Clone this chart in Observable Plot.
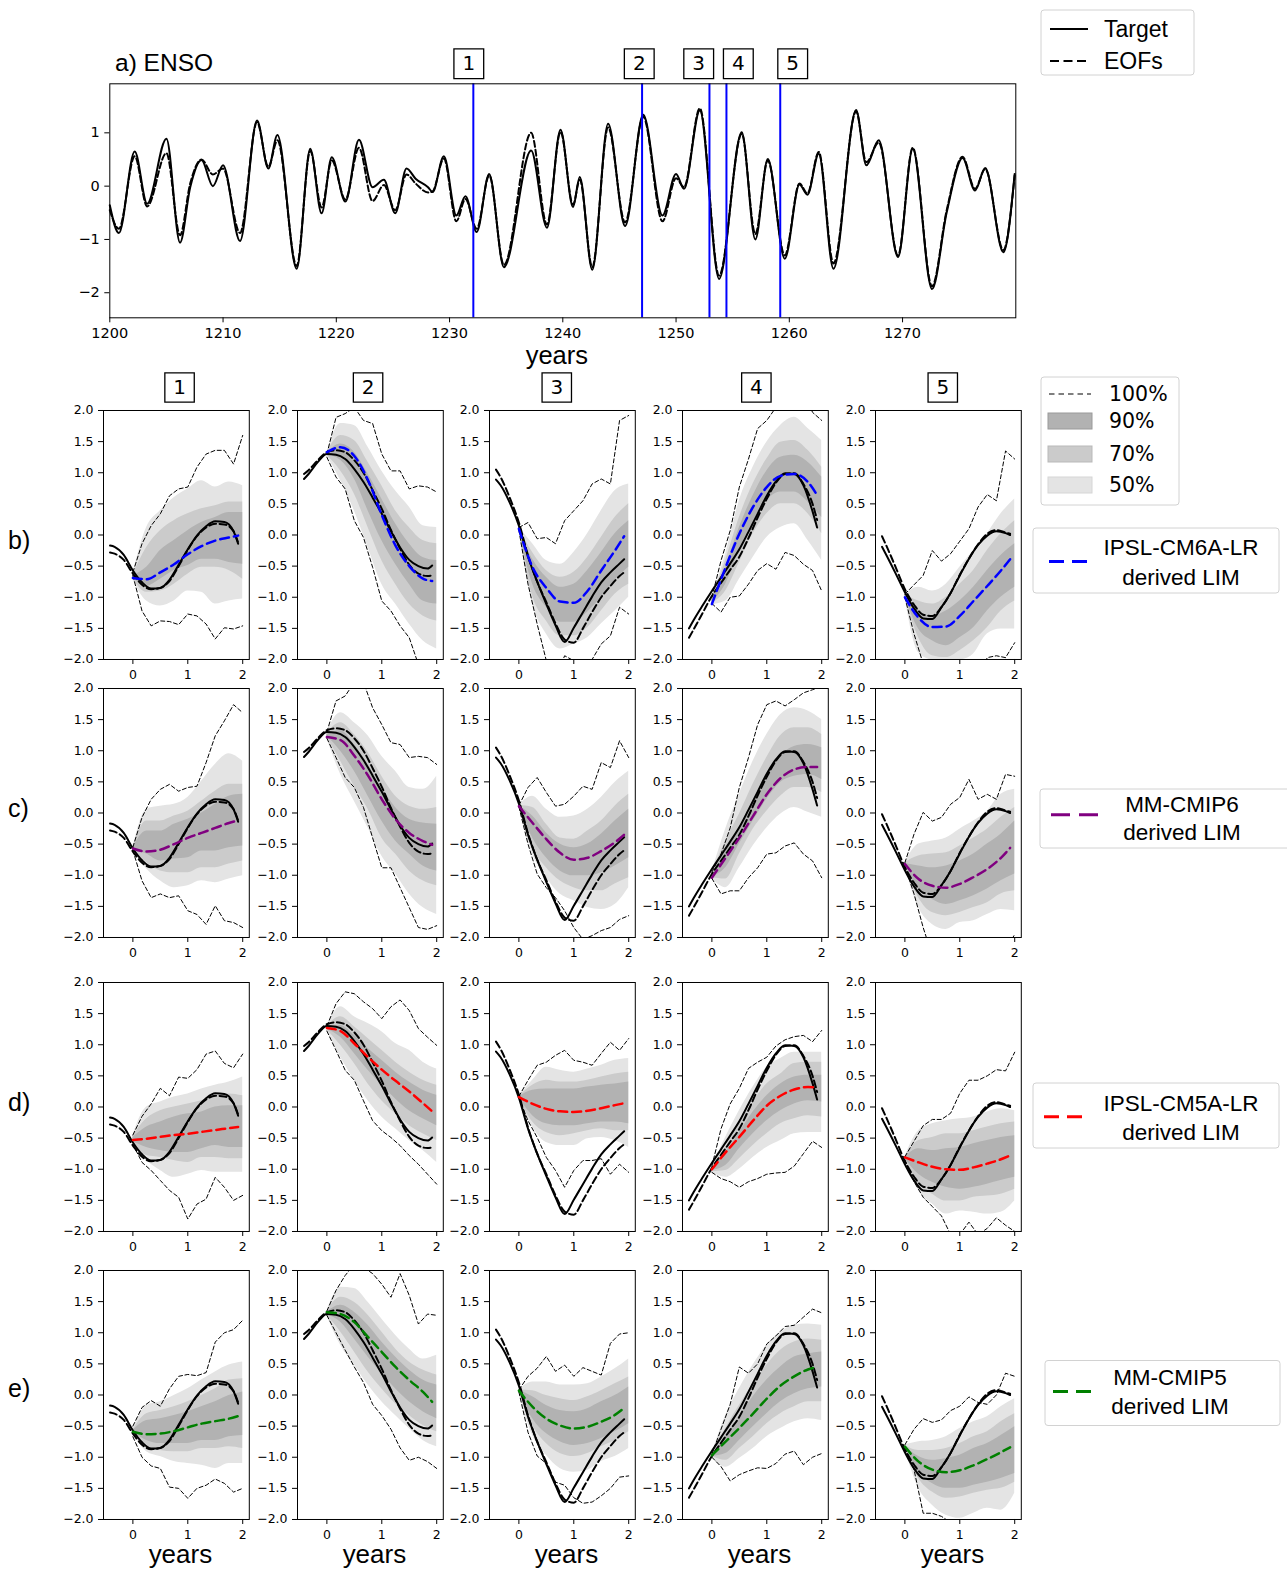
<!DOCTYPE html>
<html><head><meta charset="utf-8">
<script src="https://cdn.jsdelivr.net/npm/d3@7"></script>
<script src="https://cdn.jsdelivr.net/npm/@observablehq/plot@0.6"></script>
<style>
body{margin:0;background:#fff;}
#fig{position:relative;width:1287px;height:1571px;background:#fff;overflow:hidden;}
</style></head><body><div id="fig"></div>
<script>
// ---------------- top panel data (ENSO index) ----------------
const ensoYears = [1200.0,1200.8,1202.2,1203.3,1205.0,1206.2,1207.1,1208.1,1209.1,1210.0,1211.5,1213.0,1214.0,1214.8,1216.5,1217.7,1218.7,1219.6,1220.8,1222.0,1223.2,1224.2,1225.2,1226.2,1227.0,1228.1,1228.5,1229.5,1230.6,1231.4,1232.4,1233.5,1234.8,1237.2,1238.6,1239.8,1240.9,1241.5,1242.6,1244.0,1245.5,1247.1,1248.8,1250.0,1250.7,1252.1,1253.8,1255.8,1257.0,1258.1,1259.6,1260.9,1261.6,1262.6,1263.9,1265.9,1266.8,1267.9,1269.6,1270.9,1272.6,1273.9,1275.3,1276.4,1277.3,1278.9,1279.9];
const ensoTarget = [-0.36,-0.88,0.65,-0.33,0.89,-1.06,-0.02,0.49,0.00,0.39,-1.03,1.23,0.33,0.96,-1.55,0.70,-0.51,0.54,-0.29,0.87,-0.02,0.12,-0.51,0.33,0.14,-0.02,-0.11,0.56,-0.55,-0.19,-0.86,0.23,-1.52,0.67,-0.78,1.06,-0.39,0.17,-1.57,1.17,-0.75,1.34,-0.55,0.23,-0.05,1.42,-1.74,1.01,-1.00,0.51,-1.36,0.03,-0.16,0.61,-1.55,1.43,0.39,0.86,-1.33,0.70,-1.93,-0.49,0.53,-0.08,0.34,-1.24,0.23];
const ensoEOF = [-0.45,-0.80,0.56,-0.38,0.62,-0.92,0.05,0.50,0.22,0.33,-0.88,1.20,0.36,0.86,-1.50,0.66,-0.40,0.48,-0.25,0.72,-0.28,0.02,-0.45,0.22,0.05,-0.12,-0.10,0.52,-0.66,-0.24,-0.80,0.20,-1.48,1.00,-0.72,1.02,-0.35,0.12,-1.52,1.10,-0.68,1.30,-0.66,0.15,-0.02,1.46,-1.68,0.98,-0.90,0.48,-1.30,0.05,-0.14,0.64,-1.45,1.40,0.45,0.82,-1.30,0.72,-1.88,-0.45,0.55,-0.05,0.32,-1.20,0.20];
const ensoTicksX = [1200,1210,1220,1230,1240,1250,1260,1270];
const ensoTicksY = [-2,-1,0,1];
const eventYears = [1232.1,1247.0,1252.95,1254.45,1259.2];
const eventBoxYears = [1231.7,1246.75,1252.0,1255.5,1260.3];
const eventLabels = ["1","2","3","4","5"];

// ---------------- small panels ----------------
const trajMonths = [-5,-4,-2,0,2,4,6,8,10,12,14,16,18,20,22,23];
const targetTraj = [
 [-0.17,-0.19,-0.32,-0.57,-0.76,-0.86,-0.85,-0.72,-0.48,-0.23,-0.01,0.14,0.22,0.21,0.06,-0.14],
 [0.90,0.98,1.17,1.30,1.29,1.22,1.06,0.85,0.60,0.34,0.06,-0.20,-0.40,-0.50,-0.54,-0.49],
 [0.89,0.80,0.52,0.15,-0.35,-0.75,-1.11,-1.45,-1.72,-1.49,-1.24,-0.99,-0.76,-0.60,-0.46,-0.39],
 [-1.50,-1.37,-1.13,-0.90,-0.68,-0.46,-0.23,0.05,0.34,0.63,0.86,0.99,0.98,0.80,0.38,0.12],
 [-0.19,-0.33,-0.62,-0.92,-1.18,-1.34,-1.35,-1.16,-0.93,-0.65,-0.38,-0.16,-0.01,0.06,0.03,0.00]
];
const eofTraj = [
 [-0.28,-0.30,-0.40,-0.62,-0.80,-0.87,-0.85,-0.74,-0.50,-0.24,-0.02,0.12,0.18,0.17,0.06,-0.12],
 [0.98,1.04,1.20,1.33,1.36,1.33,1.20,1.00,0.72,0.42,0.08,-0.22,-0.48,-0.62,-0.66,-0.65],
 [1.05,0.93,0.60,0.20,-0.33,-0.75,-1.08,-1.42,-1.68,-1.73,-1.50,-1.24,-1.00,-0.82,-0.66,-0.60],
 [-1.65,-1.52,-1.25,-0.98,-0.77,-0.56,-0.35,-0.05,0.28,0.58,0.84,0.98,0.99,0.82,0.50,0.24],
 [-0.02,-0.18,-0.52,-0.87,-1.12,-1.28,-1.30,-1.16,-0.93,-0.64,-0.38,-0.15,0.02,0.08,0.04,0.02]
];
const meanMonths = [0,3,6,9,12,15,18,21,23];
const bandMonths = [0,3,6,9,12,15,18,21,24];
const envMonths = [0,2,4,6,8,10,12,14,16,18,20,22,24];
const rowLetters = ["b)","c)","d)","e)"];
const rowModels = ["IPSL-CM6A-LR","MM-CMIP6","IPSL-CM5A-LR","MM-CMIP5"];
const rowColors = ["#0000ff","#800080","#ff0000","#008000"];
const colLabels = ["1","2","3","4","5"];
const headerX = [0.85,0.75,0.69,0.81,0.69];
const panelTicksY = [-2,-1.5,-1,-0.5,0,0.5,1,1.5,2];
const panelTicksX = [0,1,2];

const limMean = [
 [[-0.69,-0.71,-0.60,-0.47,-0.31,-0.18,-0.09,-0.04,-0.01],
  [1.33,1.41,1.27,0.88,0.32,-0.17,-0.50,-0.70,-0.74],
  [0.10,-0.52,-0.85,-1.07,-1.09,-0.90,-0.57,-0.25,-0.02],
  [-1.11,-0.52,0.02,0.45,0.77,0.95,0.98,0.85,0.64],
  [-1.00,-1.33,-1.48,-1.47,-1.30,-1.06,-0.82,-0.57,-0.39]],
 [[-0.57,-0.62,-0.59,-0.50,-0.40,-0.32,-0.24,-0.16,-0.12],
  [1.22,1.17,0.92,0.60,0.22,-0.10,-0.32,-0.45,-0.51],
  [0.11,-0.16,-0.42,-0.64,-0.75,-0.72,-0.61,-0.47,-0.35],
  [-1.04,-0.72,-0.40,-0.05,0.30,0.56,0.70,0.74,0.74],
  [-0.82,-1.06,-1.17,-1.20,-1.14,-1.03,-0.90,-0.72,-0.56]],
 [[-0.53,-0.51,-0.48,-0.45,-0.43,-0.40,-0.37,-0.34,-0.32],
  [1.27,1.22,1.02,0.80,0.60,0.42,0.25,0.06,-0.07],
  [0.16,0.05,-0.03,-0.07,-0.08,-0.06,-0.02,0.03,0.06],
  [-1.00,-0.73,-0.48,-0.22,0.02,0.18,0.28,0.32,0.31],
  [-0.81,-0.89,-0.96,-1.00,-1.01,-0.97,-0.91,-0.84,-0.78]],
 [[-0.59,-0.63,-0.62,-0.58,-0.52,-0.46,-0.42,-0.38,-0.34],
  [1.33,1.30,1.17,0.93,0.69,0.45,0.24,0.05,-0.11],
  [0.07,-0.19,-0.38,-0.49,-0.54,-0.51,-0.43,-0.32,-0.21],
  [-0.97,-0.75,-0.53,-0.30,-0.06,0.15,0.30,0.41,0.45],
  [-0.83,-1.07,-1.20,-1.24,-1.21,-1.13,-1.03,-0.92,-0.84]]
];
// lightest band (legend "50%")
const band50Hi = [
 [[-0.62,0.12,0.39,0.60,0.74,0.87,0.77,0.85,0.79],[1.32,1.79,1.76,1.41,1.03,0.71,0.45,0.15,0.12],[0.12,-0.14,-0.41,-0.47,-0.28,0.02,0.39,0.71,0.82],[-1.00,-0.31,0.55,1.09,1.49,1.76,1.89,1.71,1.52],[-0.95,-0.84,-0.90,-0.79,-0.52,-0.25,0.02,0.34,0.58]],
 [[-0.55,0.06,0.11,0.14,0.25,0.51,0.78,0.95,0.83],[1.30,1.61,1.45,1.24,0.91,0.67,0.41,0.38,0.59],[0.12,0.27,0.06,-0.07,-0.05,0.06,0.25,0.49,0.67],[-0.95,-0.26,0.30,0.83,1.26,1.58,1.69,1.64,1.50],[-0.80,-0.50,-0.45,-0.40,-0.26,-0.13,0.03,0.30,0.38]],
 [[-0.45,0.00,0.08,0.16,0.21,0.29,0.35,0.40,0.48],[1.30,1.61,1.45,1.34,1.21,1.02,0.91,0.72,0.61],[0.17,0.43,0.64,0.59,0.56,0.61,0.67,0.75,0.78],[-0.95,-0.49,-0.06,0.32,0.64,0.78,0.88,0.88,0.88],[-0.80,-0.38,-0.27,-0.22,-0.19,-0.16,-0.08,-0.03,-0.06]],
 [[-0.55,-0.17,-0.11,-0.01,0.10,0.24,0.37,0.48,0.53],[1.35,1.73,1.71,1.49,1.22,0.96,0.74,0.58,0.64],[0.08,0.21,0.21,0.16,0.16,0.18,0.29,0.42,0.58],[-0.95,-0.33,0.10,0.48,0.80,1.01,1.12,1.14,1.12],[-0.80,-0.75,-0.73,-0.67,-0.54,-0.43,-0.35,-0.19,-0.06]]
];
const band50Lo = [
 [[-0.72,-1.06,-1.14,-1.06,-0.90,-0.92,-1.11,-1.06,-1.03],[1.28,0.87,0.39,-0.20,-0.79,-1.11,-1.43,-1.70,-1.83],[0.08,-1.11,-1.59,-1.83,-1.75,-1.65,-1.43,-1.22,-1.00],[-1.12,-1.06,-0.71,-0.36,-0.04,0.12,0.18,-0.09,-0.41],[-1.00,-1.89,-2.02,-2.10,-2.02,-1.91,-1.59,-1.51,-1.51]],
 [[-0.60,-0.90,-1.09,-1.20,-1.17,-1.09,-1.12,-1.06,-1.01],[1.20,0.62,0.19,-0.24,-0.69,-0.98,-1.30,-1.52,-1.63],[0.10,-0.66,-1.04,-1.30,-1.41,-1.52,-1.55,-1.47,-1.20],[-1.05,-1.20,-0.88,-0.53,-0.24,-0.02,0.09,0.01,-0.07],[-0.85,-1.52,-1.79,-1.87,-1.76,-1.73,-1.63,-1.55,-1.57]],
 [[-0.60,-0.86,-1.02,-1.13,-1.08,-1.02,-1.05,-1.05,-1.05],[1.22,0.80,0.43,0.10,-0.16,-0.35,-0.54,-0.70,-0.89],[0.15,-0.32,-0.57,-0.62,-0.62,-0.51,-0.49,-0.54,-0.65],[-1.05,-1.13,-1.00,-0.81,-0.65,-0.54,-0.43,-0.41,-0.41],[-0.85,-1.34,-1.56,-1.72,-1.67,-1.69,-1.72,-1.69,-1.51]],
 [[-0.62,-0.91,-0.99,-1.07,-1.10,-1.13,-1.18,-1.10,-1.10],[1.27,0.80,0.48,0.16,-0.11,-0.33,-0.54,-0.73,-0.83],[0.05,-0.65,-0.97,-1.18,-1.24,-1.21,-1.07,-0.99,-0.86],[-1.00,-1.16,-1.02,-0.86,-0.67,-0.54,-0.43,-0.38,-0.41],[-0.86,-1.50,-1.77,-1.93,-1.98,-1.90,-1.82,-1.85,-1.58]]
];
// middle band (legend "70%")
const band70Hi = [
 [[-0.64,-0.20,0.07,0.23,0.34,0.42,0.47,0.53,0.53],[1.32,1.60,1.52,1.17,0.79,0.39,0.12,-0.09,-0.14],[0.11,-0.28,-0.57,-0.68,-0.60,-0.36,-0.04,0.28,0.50],[-1.02,-0.41,0.28,0.82,1.22,1.49,1.52,1.36,1.09],[-0.96,-1.06,-1.11,-1.00,-0.79,-0.57,-0.25,0.02,0.23]],
 [[-0.56,-0.13,-0.13,-0.05,0.03,0.19,0.35,0.46,0.46],[1.28,1.45,1.26,0.97,0.59,0.27,0.11,0.06,0.09],[0.12,0.09,-0.18,-0.40,-0.42,-0.29,-0.13,0.11,0.30],[-0.97,-0.45,-0.02,0.46,0.89,1.24,1.37,1.37,1.26],[-0.80,-0.69,-0.66,-0.64,-0.53,-0.40,-0.26,-0.07,0.09]],
 [[-0.47,-0.19,-0.06,0.00,0.05,0.10,0.18,0.21,0.18],[1.29,1.45,1.29,1.10,0.91,0.72,0.56,0.43,0.35],[0.17,0.35,0.43,0.40,0.40,0.43,0.48,0.53,0.56],[-0.96,-0.65,-0.27,0.08,0.37,0.53,0.70,0.72,0.72],[-0.80,-0.54,-0.49,-0.43,-0.43,-0.38,-0.32,-0.27,-0.24]],
 [[-0.56,-0.30,-0.25,-0.19,-0.11,-0.01,0.10,0.24,0.26],[1.34,1.57,1.49,1.28,1.01,0.74,0.53,0.40,0.32],[0.08,0.07,-0.01,-0.06,-0.09,-0.03,0.07,0.18,0.29],[-0.96,-0.54,-0.17,0.18,0.48,0.72,0.85,0.90,0.88],[-0.81,-0.89,-0.89,-0.86,-0.78,-0.67,-0.59,-0.43,-0.30]]
];
const band70Lo = [
 [[-0.70,-0.92,-0.90,-0.79,-0.63,-0.52,-0.52,-0.57,-0.71],[1.28,1.03,0.66,0.12,-0.41,-0.79,-1.11,-1.30,-1.38],[0.09,-0.98,-1.38,-1.62,-1.62,-1.49,-1.22,-0.95,-0.79],[-1.10,-0.90,-0.44,0.02,0.34,0.50,0.50,0.34,0.02],[-0.99,-1.65,-1.94,-1.97,-1.86,-1.70,-1.49,-1.22,-1.06]],
 [[-0.59,-0.80,-0.93,-0.96,-0.96,-0.88,-0.88,-0.82,-0.77],[1.22,0.83,0.43,0.06,-0.40,-0.66,-0.93,-1.09,-1.17],[0.10,-0.56,-0.88,-1.09,-1.20,-1.25,-1.25,-1.14,-1.04],[-1.04,-1.06,-0.66,-0.26,0.03,0.27,0.41,0.41,0.33],[-0.84,-1.36,-1.60,-1.65,-1.60,-1.52,-1.44,-1.30,-1.25]],
 [[-0.58,-0.78,-0.81,-0.86,-0.89,-0.81,-0.81,-0.83,-0.83],[1.24,0.99,0.70,0.37,0.10,-0.11,-0.30,-0.43,-0.54],[0.15,-0.24,-0.41,-0.46,-0.43,-0.38,-0.35,-0.38,-0.38],[-1.04,-1.02,-0.83,-0.62,-0.43,-0.27,-0.19,-0.14,-0.16],[-0.84,-1.24,-1.40,-1.51,-1.51,-1.45,-1.43,-1.40,-1.32]],
 [[-0.61,-0.83,-0.89,-0.91,-0.91,-0.86,-0.86,-0.83,-0.86],[1.28,1.01,0.69,0.37,0.10,-0.14,-0.33,-0.49,-0.59],[0.06,-0.49,-0.78,-0.94,-0.99,-0.94,-0.83,-0.73,-0.59],[-0.99,-1.05,-0.86,-0.67,-0.46,-0.30,-0.19,-0.11,-0.11],[-0.85,-1.34,-1.56,-1.66,-1.64,-1.58,-1.53,-1.50,-1.40]]
];
// darkest band (legend "90%")
const band90Hi = [
 [[-0.66,-0.52,-0.25,-0.09,0.07,0.20,0.28,0.36,0.36],[1.31,1.46,1.33,0.98,0.58,0.18,-0.14,-0.36,-0.41],[0.105,-0.39,-0.68,-0.84,-0.79,-0.57,-0.28,0.02,0.23],[-1.04,-0.52,0.12,0.63,1.03,1.25,1.28,1.17,0.93],[-0.97,-1.22,-1.30,-1.22,-1.06,-0.84,-0.57,-0.33,-0.14]],
 [[-0.565,-0.29,-0.29,-0.18,-0.10,0.00,0.14,0.27,0.30],[1.26,1.32,1.10,0.78,0.41,0.09,-0.10,-0.16,-0.18],[0.115,-0.05,-0.32,-0.50,-0.56,-0.50,-0.34,-0.13,0.06],[-0.99,-0.61,-0.24,0.19,0.59,0.91,1.07,1.10,1.05],[-0.81,-0.85,-0.88,-0.85,-0.77,-0.66,-0.50,-0.34,-0.13]],
 [[-0.49,-0.32,-0.24,-0.16,-0.11,-0.08,0.00,0.02,0.02],[1.28,1.31,1.15,0.94,0.75,0.56,0.40,0.27,0.19],[0.165,0.27,0.29,0.29,0.29,0.32,0.35,0.37,0.40],[-0.98,-0.73,-0.41,-0.08,0.18,0.37,0.48,0.51,0.51],[-0.81,-0.67,-0.70,-0.67,-0.65,-0.59,-0.54,-0.49,-0.46]],
 [[-0.57,-0.41,-0.38,-0.33,-0.27,-0.19,-0.11,-0.01,0.05],[1.33,1.44,1.33,1.12,0.85,0.61,0.40,0.24,0.16],[0.075,-0.03,-0.17,-0.25,-0.27,-0.22,-0.11,-0.01,0.13],[-0.965,-0.67,-0.35,-0.03,0.24,0.45,0.61,0.66,0.69],[-0.82,-0.99,-1.05,-1.02,-0.97,-0.86,-0.78,-0.65,-0.51]]
];
const band90Lo = [
 [[-0.68,-0.82,-0.71,-0.57,-0.49,-0.39,-0.39,-0.44,-0.47],[1.29,1.20,0.90,0.39,-0.09,-0.47,-0.79,-1.06,-1.11],[0.095,-0.79,-1.16,-1.40,-1.40,-1.24,-1.00,-0.73,-0.52],[-1.08,-0.79,-0.25,0.20,0.55,0.69,0.69,0.53,0.28],[-0.98,-1.51,-1.70,-1.78,-1.65,-1.49,-1.22,-1.00,-0.84]],
 [[-0.585,-0.66,-0.77,-0.74,-0.72,-0.61,-0.61,-0.56,-0.53],[1.24,0.99,0.67,0.27,-0.13,-0.45,-0.66,-0.85,-0.93],[0.105,-0.40,-0.72,-0.93,-1.01,-1.01,-0.96,-0.85,-0.72],[-1.02,-0.88,-0.50,-0.13,0.22,0.49,0.59,0.62,0.54],[-0.83,-1.22,-1.39,-1.47,-1.41,-1.33,-1.22,-1.09,-0.98]],
 [[-0.56,-0.65,-0.70,-0.73,-0.73,-0.67,-0.62,-0.65,-0.65],[1.25,1.12,0.86,0.59,0.35,0.13,-0.06,-0.19,-0.30],[0.155,-0.14,-0.27,-0.30,-0.30,-0.27,-0.24,-0.24,-0.27],[-1.02,-0.94,-0.67,-0.43,-0.22,-0.06,0.05,0.10,0.08],[-0.83,-1.08,-1.21,-1.29,-1.32,-1.29,-1.24,-1.18,-1.13]],
 [[-0.60,-0.73,-0.78,-0.78,-0.78,-0.73,-0.73,-0.67,-0.65],[1.29,1.17,0.90,0.61,0.34,0.10,-0.11,-0.27,-0.38],[0.065,-0.38,-0.62,-0.75,-0.81,-0.78,-0.70,-0.59,-0.46],[-0.985,-0.94,-0.73,-0.51,-0.30,-0.11,0.02,0.10,0.13],[-0.84,-1.24,-1.42,-1.50,-1.50,-1.45,-1.40,-1.34,-1.26]]
];
// 100% envelope
const env100Hi = [
 [[-0.60,-0.14,0.15,0.34,0.63,0.74,0.77,1.09,1.30,1.36,1.36,1.14,1.60],[1.30,1.89,1.95,2.05,1.84,1.79,1.30,1.03,1.03,0.74,0.79,0.77,0.69],[0.12,0.20,-0.06,-0.04,-0.14,0.23,0.39,0.55,0.82,0.90,0.82,1.84,1.92],[-1.00,-0.41,0.07,0.77,1.22,1.71,1.84,2.05,2.30,2.30,2.30,1.97,1.84],[-0.95,-0.80,-0.65,-0.25,-0.42,-0.30,-0.10,0.10,0.45,0.65,0.55,1.35,1.22]],
 [[-0.55,-0.07,0.22,0.38,0.46,0.35,0.41,0.43,0.81,1.24,1.48,1.74,1.61],[1.30,1.80,1.88,2.10,2.10,1.69,1.42,1.13,1.10,0.89,0.91,0.89,0.78],[0.12,0.41,0.57,0.33,0.11,0.14,0.27,0.43,0.38,0.81,0.73,1.16,0.89],[-0.95,-0.66,-0.24,0.41,0.89,1.42,1.74,1.80,1.72,1.82,1.93,1.98,2.04],[-0.80,-0.34,0.01,-0.13,-0.07,0.14,0.25,0.54,0.22,0.30,0.22,0.62,0.59]],
 [[-0.45,-0.15,0.05,0.30,0.18,0.48,0.46,0.60,0.85,0.90,0.70,0.63,0.85],[1.30,1.66,1.85,1.82,1.69,1.58,1.42,1.61,1.72,1.55,1.26,1.12,0.99],[0.17,0.43,0.67,0.72,0.83,0.91,0.75,0.72,0.67,0.86,1.04,0.91,1.10],[-0.95,-0.35,0.05,0.30,0.62,0.72,0.80,0.98,1.08,1.13,1.15,1.05,1.23],[-0.80,-0.55,-0.30,-0.20,-0.20,-0.10,0.22,0.43,0.43,0.50,0.60,0.58,0.88]],
 [[-0.50,-0.20,-0.09,-0.18,0.10,0.30,0.33,0.31,0.36,0.85,1.00,1.05,1.20],[1.35,1.68,1.92,2.10,2.05,1.95,1.78,1.57,1.95,1.60,1.14,1.30,1.28],[0.08,0.30,0.43,0.62,0.38,0.48,0.30,0.44,0.38,0.32,0.83,0.98,1.00],[-0.95,-0.55,-0.15,0.45,0.35,0.50,0.82,0.95,1.10,1.12,1.25,1.38,1.32],[-0.80,-0.55,-0.38,-0.44,-0.40,-0.25,-0.18,-0.03,-0.12,-0.15,0.00,0.35,0.30]]
];
const env100Lo = [
 [[-0.65,-1.22,-1.46,-1.38,-1.39,-1.44,-1.27,-1.30,-1.43,-1.67,-1.49,-1.51,-1.46],[1.25,0.93,0.74,0.23,-0.04,-0.52,-1.06,-1.22,-1.46,-1.65,-2.08,-2.30,-2.40],[0.08,-0.79,-1.43,-2.02,-2.30,-1.94,-2.02,-2.10,-2.00,-1.75,-1.62,-1.16,-1.27],[-1.10,-1.24,-1.00,-0.98,-0.79,-0.57,-0.46,-0.55,-0.28,-0.33,-0.47,-0.57,-0.90],[-1.00,-1.59,-2.07,-2.30,-2.30,-2.30,-2.30,-2.30,-2.30,-1.97,-1.94,-1.97,-1.73]],
 [[-0.60,-1.09,-1.36,-1.30,-1.36,-1.33,-1.57,-1.63,-1.79,-1.49,-1.73,-1.76,-1.84],[1.20,0.89,0.57,0.41,0.09,-0.40,-0.88,-0.88,-1.20,-1.52,-1.84,-1.87,-1.81],[0.10,-0.50,-0.98,-1.20,-1.36,-1.57,-1.84,-2.03,-1.97,-1.89,-1.84,-1.71,-1.65],[-1.05,-1.30,-1.25,-1.25,-1.04,-0.88,-0.66,-0.64,-0.53,-0.48,-0.66,-0.77,-1.04],[-0.85,-1.30,-1.84,-2.30,-2.30,-2.30,-2.30,-2.30,-2.30,-2.30,-2.30,-2.20,-1.95]],
 [[-0.60,-0.89,-1.02,-1.18,-1.34,-1.45,-1.80,-1.56,-1.48,-1.13,-1.29,-1.50,-1.42],[1.22,0.91,0.59,0.43,0.10,-0.22,-0.38,-0.49,-0.62,-0.78,-0.92,-1.08,-1.24],[0.15,-0.22,-0.49,-0.81,-1.02,-1.29,-1.02,-0.86,-0.86,-0.83,-1.08,-0.92,-1.05],[-1.05,-1.15,-1.20,-1.29,-1.20,-1.15,-1.08,-1.06,-1.05,-0.95,-0.75,-0.55,-0.65],[-0.85,-1.20,-1.45,-1.60,-1.75,-2.05,-2.05,-1.85,-2.05,-1.95,-1.78,-1.90,-2.00]],
 [[-0.67,-1.00,-1.14,-1.18,-1.48,-1.50,-1.66,-1.50,-1.45,-1.35,-1.42,-1.56,-1.50],[1.28,1.00,0.72,0.45,0.20,-0.15,-0.33,-0.55,-0.85,-1.05,-1.00,-1.07,-1.18],[0.05,-0.60,-0.98,-1.10,-1.40,-1.45,-1.65,-1.74,-1.72,-1.62,-1.50,-1.32,-1.30],[-1.00,-1.15,-1.38,-1.28,-1.22,-1.17,-1.18,-1.10,-0.95,-0.90,-1.12,-1.00,-0.94],[-0.85,-1.20,-1.90,-1.90,-1.95,-2.05,-2.20,-2.20,-2.20,-2.20,-2.20,-2.20,-2.20]]
];
const bandShades = {p50:"#e4e4e4", p70:"#cbcbcb", p90:"#b2b2b2"};
const legendPercents = ["100%","90%","70%","50%"];

// ---------------- layout ----------------
const fig = document.getElementById("fig");
const colLeft = [102.7, 297.3, 488.7, 681.8, 874.5];
const rowTop = [410, 687.5, 982, 1270];
const PW = 145.8, PH = 249;
const baseStyle = {background:"transparent", color:"black", overflow:"visible"};

function place(el, left, top){ el.style.position="absolute"; el.style.left=left+"px"; el.style.top=top+"px"; fig.appendChild(el); }

// top panel
{
  const data = ensoYears.map((t,i)=>({t, target:ensoTarget[i], eof:ensoEOF[i]}));
  const boxes = eventBoxYears.map((t,i)=>({t, label:eventLabels[i]}));
  const W = 1040, H = 372;
  const el = Plot.plot({
    width: W, height: H,
    marginLeft: 109.3, marginRight: W-1015.3, marginTop: 83.3, marginBottom: H-317.3,
    style: {...baseStyle, fontFamily:"DejaVu Sans", fontSize:"14.5px"},
    x: {domain:[1200,1280], ticks: ensoTicksX, tickFormat: d3.format("d"), tickSize:5, tickPadding:5, label:null},
    y: {domain:[-2.47,1.92], ticks: ensoTicksY, tickFormat: d3.format("d"), tickSize:5, tickPadding:5, label:null},
    marks: [
      Plot.line(data, {x:"t", y:"target", stroke:"black", strokeWidth:2, curve:"monotone-x"}),
      Plot.line(data, {x:"t", y:"eof", stroke:"black", strokeWidth:2, strokeDasharray:"6,3", curve:"monotone-x"}),
      Plot.ruleX(eventYears, {stroke:"#0000ff", strokeWidth:2}),
      Plot.dot(boxes, {x:"t", frameAnchor:"top", dy:-20, symbol:"square", r:16.8, fill:"white", stroke:"black", strokeWidth:1.3}),
      Plot.text(boxes, {x:"t", text:"label", frameAnchor:"top", lineAnchor:"middle", dy:-20, fontSize:20, fontFamily:"DejaVu Sans"}),
      Plot.text(["years"], {frameAnchor:"bottom", lineAnchor:"middle", dx:-6, dy:38.5, fontSize:25.5, fontFamily:"Liberation Sans"}),
      Plot.frame({stroke:"black"})
    ]
  });
  place(el, 0, 0);
}

function panel(r, c){
  const mL = 44, mR = 4, mT = r===0 ? 50 : 4, mB = r===3 ? 62 : 24;
  const traj = trajMonths.map((m,i)=>({x:m/12, target:targetTraj[c][i], eof:eofTraj[c][i]}));
  const bands = bandMonths.map((m,i)=>({x:m/12,
    lo50:band50Lo[r][c][i], hi50:band50Hi[r][c][i],
    lo70:band70Lo[r][c][i], hi70:band70Hi[r][c][i],
    lo90:band90Lo[r][c][i], hi90:band90Hi[r][c][i]}));
  const env = envMonths.map((m,i)=>({x:m/12, lo:env100Lo[r][c][i], hi:env100Hi[r][c][i]}));
  const mean = meanMonths.map((m,i)=>({x:m/12, y:limMean[r][c][i]}));
  const marks = [
    Plot.areaY(bands, {x:"x", y1:"lo50", y2:"hi50", fill:bandShades.p50, curve:"monotone-x", clip:true}),
    Plot.areaY(bands, {x:"x", y1:"lo70", y2:"hi70", fill:bandShades.p70, curve:"monotone-x", clip:true}),
    Plot.areaY(bands, {x:"x", y1:"lo90", y2:"hi90", fill:bandShades.p90, curve:"monotone-x", clip:true}),
    Plot.line(env, {x:"x", y:"hi", stroke:"black", strokeWidth:1, strokeDasharray:"4,2.5", clip:true}),
    Plot.line(env, {x:"x", y:"lo", stroke:"black", strokeWidth:1, strokeDasharray:"4,2.5", clip:true}),
    Plot.line(traj, {x:"x", y:"target", stroke:"black", strokeWidth:2, curve:"monotone-x", clip:true}),
    Plot.line(traj, {x:"x", y:"eof", stroke:"black", strokeWidth:2, strokeDasharray:"7,3.5", curve:"monotone-x", clip:true}),
    Plot.line(mean, {x:"x", y:"y", stroke:rowColors[r], strokeWidth:2.5, strokeDasharray:"9,5", curve:"monotone-x", clip:true}),
    Plot.frame({stroke:"black"})
  ];
  if (r===0){
    const hb = [{x:headerX[c], label:colLabels[c]}];
    marks.push(Plot.dot(hb, {x:"x", frameAnchor:"top", dy:-23, symbol:"square", r:16.6, fill:"white", stroke:"black", strokeWidth:1.3}));
    marks.push(Plot.text(hb, {x:"x", text:"label", frameAnchor:"top", lineAnchor:"middle", dy:-23, fontSize:20, fontFamily:"DejaVu Sans"}));
  }
  if (r===3){
    marks.push(Plot.text(["years"], {frameAnchor:"bottom", lineAnchor:"middle", dx:4, dy:35, fontSize:26, fontFamily:"Liberation Sans"}));
  }
  const el = Plot.plot({
    width: mL+PW+mR, height: mT+PH+mB,
    marginLeft:mL, marginRight:mR, marginTop:mT, marginBottom:mB,
    style: {...baseStyle, fontFamily:"DejaVu Sans", fontSize:"12.5px"},
    x: {domain:[-0.535,2.12], ticks:panelTicksX, tickFormat:d3.format("d"), tickSize:5, tickPadding:5.5, label:null},
    y: {domain:[-2,2], ticks:panelTicksY, tickFormat:d3.format(".1f"), tickSize:5, tickPadding:5, label:null},
    marks
  });
  place(el, colLeft[c]-mL, rowTop[r]-mT);
}
for (let r=0;r<4;r++) for (let c=0;c<5;c++) panel(r,c);

// ---------------- annotations / legends ----------------
const ov = d3.select(fig).append("svg").attr("width",1287).attr("height",1571)
  .style("position","absolute").style("left","0px").style("top","0px");
const LS = "Liberation Sans, Arial, sans-serif", DJ = "DejaVu Sans, sans-serif";
function T(x,y,s,size,fam,anchor){ return ov.append("text").attr("x",x).attr("y",y).attr("font-size",size).attr("font-family",fam).attr("text-anchor",anchor||"start").attr("dominant-baseline","central").attr("fill","black").text(s); }
function box(x,y,w,h){ ov.append("rect").attr("x",x).attr("y",y).attr("width",w).attr("height",h).attr("rx",3).attr("fill","white").attr("stroke","#d2d2d2").attr("stroke-width",1); }
function seg(x1,x2,y,col,w,dash){ const l=ov.append("line").attr("x1",x1).attr("x2",x2).attr("y1",y).attr("y2",y).attr("stroke",col).attr("stroke-width",w); if(dash) l.attr("stroke-dasharray",dash); }

ov.append("text").attr("x",115).attr("y",71).attr("font-size",24.5).attr("font-family",LS).text("a) ENSO");

// Target / EOFs legend
box(1041,10,153,65);
seg(1050,1088,29,"black",2,null); T(1104,29,"Target",23,LS);
seg(1050,1088,61,"black",2,"9,4.5"); T(1104,61,"EOFs",23,LS);

// percentile legend
box(1041,377,138,128);
seg(1049,1091,394,"black",1.2,"5.5,4"); T(1109,394,legendPercents[0],20.5,DJ);
const sw = [[bandShades.p90,"#9a9a9a",413,421],[bandShades.p70,"#b9b9b9",446,453.5],[bandShades.p50,"#d6d6d6",477,485]];
sw.forEach((s,i)=>{ ov.append("rect").attr("x",1048).attr("y",s[2]).attr("width",44).attr("height",16).attr("fill",s[0]).attr("stroke",s[1]).attr("stroke-width",1); T(1109,s[3],legendPercents[i+1],20.5,DJ); });

// model legends
const modelLeg = [
  {bx:1033,by:528,bw:246,bh:65,lx1:1049,lx2:1088,ly:561.5,dash:"15,8",tx:1181,t1:547,t2:577},
  {bx:1040,by:789,bw:250,bh:59,lx1:1051,lx2:1098,ly:814.7,dash:"19,9",tx:1182,t1:804,t2:832},
  {bx:1033,by:1083,bw:246,bh:65,lx1:1044,lx2:1082,ly:1116.8,dash:"15,8",tx:1181,t1:1103,t2:1132},
  {bx:1045,by:1360.5,bw:235,bh:65,lx1:1053,lx2:1092,ly:1391.6,dash:"15,8",tx:1170,t1:1377.5,t2:1406}
];
modelLeg.forEach((g,r)=>{
  box(g.bx,g.by,g.bw,g.bh);
  seg(g.lx1,g.lx2,g.ly,rowColors[r],3,g.dash);
  T(g.tx,g.t1,rowModels[r],22.5,LS,"middle");
  T(g.tx,g.t2,"derived LIM",22.5,LS,"middle");
});

// row letters
const rowLabelY = [540,808,1102,1388];
rowLetters.forEach((s,i)=>T(8,rowLabelY[i],s,25,LS));
</script></body></html>
